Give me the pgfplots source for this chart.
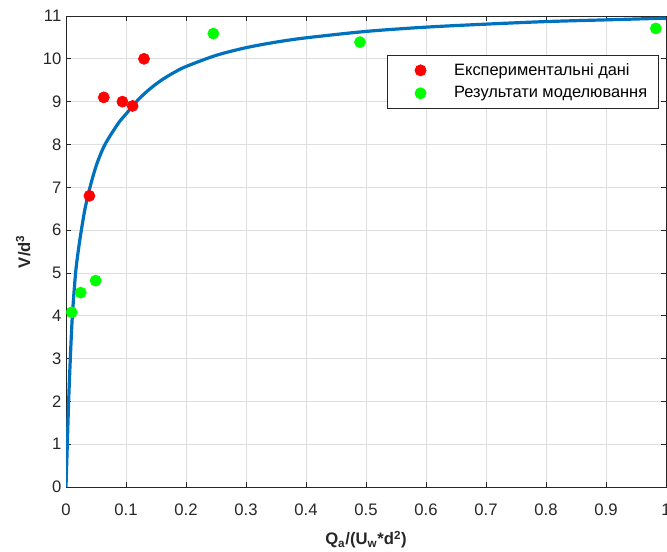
\documentclass[border=0pt]{standalone}
\usepackage{fontspec}
\setmainfont{Liberation Sans}
\usepackage{pgfplots}
\pgfplotsset{compat=1.18}
\definecolor{mblue}{RGB}{0,114,189}
\definecolor{mgrid}{RGB}{223,223,223}
\definecolor{maxis}{RGB}{38,38,38}

\begin{document}
\begin{tikzpicture}
\begin{axis}[
  scale only axis, width=450pt, height=353.25pt,
  xmin=0, xmax=1, ymin=0, ymax=11,
  xtick={0,0.1,0.2,0.3,0.4,0.5,0.6,0.7,0.8,0.9,1},
  ytick={0,1,2,3,4,5,6,7,8,9,10,11},
  /pgf/number format/assume math mode=true,
  tick label style={font=\fontsize{12.5}{15}\selectfont, text=maxis},
  xticklabel style={anchor=base, yshift=-21.5pt},
  tick align=inside, major tick length=4pt,
  tick style={color=maxis, line width=0.5pt},
  axis line style={maxis, line width=0.6pt},
  grid=major, major grid style={mgrid, line width=0.5pt},
  xlabel={\bfseries Q\textsubscript{a}/(U\textsubscript{w}*d\textsuperscript{2})},
  ylabel={\bfseries V/d\textsuperscript{3}},
  label style={font=\fontsize{12.5}{15}\selectfont, text=maxis},
  xlabel style={at={(axis description cs:0.5,-0.123)}, anchor=base},
  ylabel style={at={(axis description cs:-0.06,0.5)}, anchor=base},
  legend style={at={(0.987,0.917)}, anchor=north east, draw=maxis, line width=0.5pt,
    font=\fontsize{12.3}{14}\selectfont, text=black, row sep=3pt,
    inner xsep=6pt, inner ysep=4pt},
  legend cell align=left,
  legend image code/.code={\path (0pt,0pt) (42pt,0pt);
    \draw[#1] plot coordinates {(19pt,0pt)};},
]
\addplot[mblue, line width=2.4pt, smooth, forget plot] coordinates {
  (0,0) (0.0022,1) (0.0044,2) (0.0072,3) (0.0106,4) (0.016,5)
  (0.0205,5.52) (0.0256,6) (0.032,6.52) (0.040,7) (0.051,7.53)
  (0.065,8) (0.087,8.49) (0.1,8.71) (0.12,9.04) (0.14,9.3)
  (0.16,9.51) (0.18,9.68) (0.2,9.82) (0.25,10.08) (0.3,10.26)
  (0.35,10.39) (0.4,10.49) (0.5,10.64) (0.6,10.74) (0.7,10.81)
  (0.8,10.87) (0.9,10.91) (1.0,10.95)
};
\addplot[only marks, mark=*, mark size=4.2pt, color=red, fill=red] coordinates {
  (0.039,6.8) (0.063,9.1) (0.094,9.0) (0.111,8.9) (0.130,10.0)
};
\addlegendentry{Експериментальні дані}
\addplot[only marks, mark=*, mark size=4.2pt, color=green, fill=green] coordinates {
  (0.0095,4.08) (0.0245,4.54) (0.0495,4.82) (0.2456,10.59) (0.49,10.39) (0.983,10.71)
};
\addlegendentry{Результати моделювання}
\end{axis}
\pgfresetboundingbox
\path (-49.5pt,-48pt) rectangle (450.75pt,365.25pt);
\end{tikzpicture}
\end{document}
